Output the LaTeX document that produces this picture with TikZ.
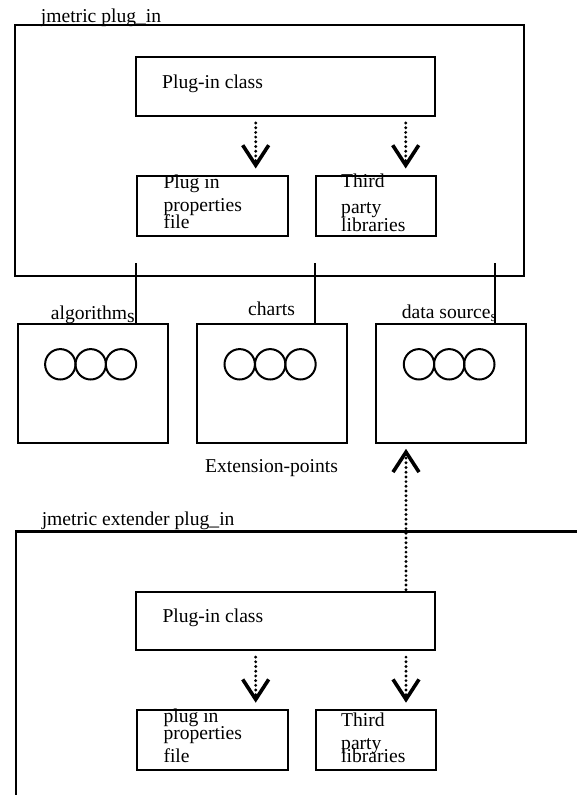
\documentclass[tikz,border=0pt]{standalone}
\usepackage{fontspec}
\setmainfont{Liberation Serif}
\usetikzlibrary{arrows.meta}
\begin{document}
\begin{tikzpicture}[x=1pt,y=-1pt,
  box/.style={draw, line width=2.1pt, rectangle, inner sep=0pt, anchor=north west},
  txt/.style={anchor=base west, inner sep=0pt, font=\fontsize{19.6}{22}\selectfont},
  ring/.style={draw, line width=2pt, circle, minimum size=30.4pt, inner sep=0pt},
  dotarrow/.style={line width=3.2pt, dash pattern=on 0pt off 4.7pt, line cap=round,
    -{Straight Barb[length=20pt,width=26pt,line width=3.6pt]}},
  link/.style={line width=2.1pt}]
\useasboundingbox (0,0) rectangle (577,795);

% ---------- top plug-in ----------
\node[box, minimum width=508.7pt, minimum height=250.7pt] (outer1) at (14,24.3) {};
\node[txt] (title1) at (40.7,22) {jmetric plug\_in};
\node[box, minimum width=299pt, minimum height=59.2pt] (pc1) at (135,56) {};
\node[txt] (pc1t) at (162,88.3) {Plug-in class};
\node[box, minimum width=150.7pt, minimum height=60pt] (pr1) at (136,175) {};
\node[txt] (pr1a) at (163.3,188.3) {Plug in};
\node[txt] (pr1b) at (163.3,211.7) {properties};
\node[txt] (pr1c) at (163.3,228.3) {file};
\node[box, minimum width=120.3pt, minimum height=60pt] (tp1) at (315,175) {};
\node[txt] (tp1a) at (341,187.3) {Third};
\node[txt] (tp1b) at (341,213) {party};
\node[txt] (tp1c) at (341,231.7) {libraries};

\coordinate (ax1) at (255.7,0);
\coordinate (ax2) at (405.7,0);
\coordinate (ax3) at (406,0);
\draw[dotarrow, shorten <=5.7pt, shorten >=6.5pt] (pc1.south -| ax1) -- (pr1.north -| ax1);
\draw[dotarrow, shorten <=5.7pt, shorten >=6.5pt] (pc1.south -| ax2) -- (tp1.north -| ax2);

% ---------- extension points ----------
\node[box, minimum width=149.4pt, minimum height=119.6pt] (alg) at (17.3,322.7) {};
\node[box, minimum width=150pt, minimum height=119.6pt] (cha) at (196,322.7) {};
\node[box, minimum width=150pt, minimum height=119.6pt] (dat) at (375,322.7) {};

\node[txt] (algt) at (50.7,319.3) {algorithm\raisebox{-3.4pt}{s}};
\node[txt] (chat) at (248,315) {charts};
\node[txt] (datt) at (401.7,318) {data source\raisebox{-3.6pt}{\fontsize{15}{18}\selectfont s}};

\foreach \n/\cx in {a1/60.3,a2/90.7,a3/121,c1/239.7,c2/270.2,c3/300.5,d1/419,d2/449.2,d3/479.3}
  \node[ring] (r\n) at (\cx,364.3) {};

\coordinate (t1) at (136,263.3);
\coordinate (t2) at (315.3,263.3);
\coordinate (t3) at (494.7,263.3);
\draw[link] (t1) -- (t1 |- alg.north);
\draw[link] (t2) -- (t2 |- cha.north);
\draw[link] (t3) -- (t3 |- dat.north);

\node[txt] (ext) at (205,472.7) {Extension-points};

% ---------- extender plug-in ----------
\coordinate (o2r) at (578,531.5);
\coordinate (o2c) at (16.3,531.5);
\coordinate (o2b) at (16.3,797);
\draw[link] (o2r) -- (o2c) -- (o2b);
\node[txt] (title2) at (41.6,525) {jmetric extender plug\_in};

\node[box, minimum width=299pt, minimum height=58.6pt] (pc2) at (135,590.7) {};
\node[txt] (pc2t) at (162.3,622.2) {Plug-in class};
\node[box, minimum width=150.7pt, minimum height=59.6pt] (pr2) at (136,709.2) {};
\node[txt] (pr2a) at (163.3,722.5) {plug in};
\node[txt] (pr2b) at (163.3,739.3) {properties};
\node[txt] (pr2c) at (163.3,762.7) {file};
\node[box, minimum width=120.3pt, minimum height=59.6pt] (tp2) at (315,709.2) {};
\node[txt] (tp2a) at (341,726) {Third};
\node[txt] (tp2b) at (341,749.3) {party};
\node[txt] (tp2c) at (341,762.7) {libraries};

\draw[dotarrow, shorten <=5.7pt, shorten >=6.5pt] (pc2.south -| ax1) -- (pr2.north -| ax1);
\draw[dotarrow, shorten <=5.7pt, shorten >=6.5pt] (pc2.south -| ax3) -- (tp2.north -| ax3);
\draw[dotarrow, shorten <=1pt, shorten >=4.4pt] (pc2.north -| ax3) -- (dat.south -| ax3);
\end{tikzpicture}
\end{document}
